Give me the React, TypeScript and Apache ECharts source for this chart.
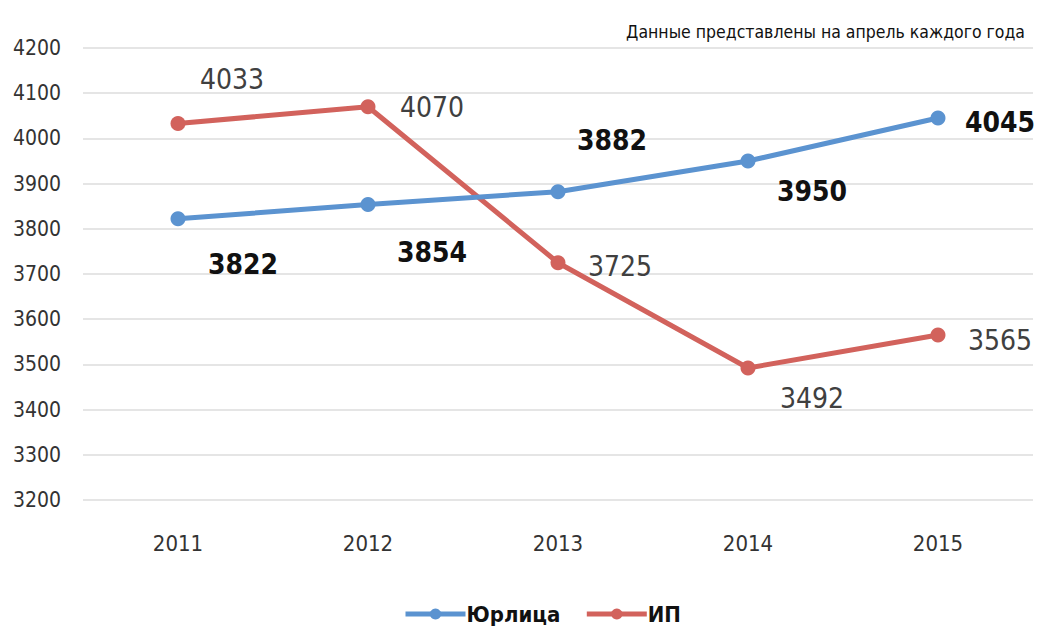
import React, { useEffect, useRef } from "react";
import * as echarts from "echarts";

const years = ["2011", "2012", "2013", "2014", "2015"];
const corpName = "Юрлица";
const ipName = "ИП";
const corpValues = [3822, 3854, 3882, 3950, 4045];
const ipValues = [4033, 4070, 3725, 3492, 3565];
const noteText = "Данные представлены на апрель каждого года";

// label offsets (style only)
const corpLabelOffsets = [[65, 46], [64, 48], [54, -51], [64, 30], [62, 4]];
const ipLabelOffsets = [[54, -44], [64, 1], [62, 4], [64, 30], [62, 5]];

const FONT = "'Liberation Sans Narrow', 'DejaVu Sans Condensed', 'Roboto Condensed', 'Noto Sans', sans-serif";
const BLUE = "#5B93D0";
const RED = "#D2625C";

export default function App() {
  const ref = useRef<HTMLDivElement>(null);
  useEffect(() => {
    if (!ref.current) return;
    const chart = echarts.init(ref.current, null, { renderer: "svg" });
    const mk = (vals: number[], offs: number[][], bold: boolean, color: string) =>
      vals.map((v, i) => ({
        value: v,
        label: {
          show: true,
          position: "inside",
          offset: offs[i],
          fontSize: 28,
          fontFamily: FONT,
          fontWeight: bold ? "bold" : "normal",
          color,
        },
      }));
    chart.setOption({
      animation: false,
      backgroundColor: "#ffffff",
      textStyle: { fontFamily: FONT },
      title: {
        text: noteText,
        right: 8,
        top: 18,
        textStyle: { fontFamily: FONT, fontSize: 17.5, fontWeight: "normal", color: "#111" },
      },
      legend: {
        data: [
          { name: corpName, lineStyle: { width: 5 } },
          { name: ipName, lineStyle: { width: 5 } },
        ],
        left: 398,
        top: 598,
        itemWidth: 60,
        itemHeight: 14,
        itemGap: 24,
        textStyle: { fontFamily: FONT, fontSize: 22, fontWeight: "bold", color: "#111", padding: [0, 0, 0, -4] },
      },
      grid: { left: 83, right: 5, top: 48, bottom: 130 },
      xAxis: {
        type: "category",
        data: years,
        boundaryGap: true,
        axisLine: { show: false },
        axisTick: { show: false },
        axisLabel: { fontFamily: FONT, fontSize: 22, color: "#333", margin: 32 },
      },
      yAxis: {
        type: "value",
        min: 3200,
        max: 4200,
        interval: 100,
        axisLine: { show: false },
        axisTick: { show: false },
        axisLabel: {
          fontFamily: FONT,
          fontSize: 21,
          color: "#333",
          margin: 22,
          formatter: (v: number) => String(v),
        },
        splitLine: { lineStyle: { color: "#E5E5E5", width: 2 } },
      },
      series: [
        {
          name: corpName,
          type: "line",
          data: mk(corpValues, corpLabelOffsets, true, "#111"),
          color: BLUE,
          lineStyle: { width: 5, color: BLUE },
          itemStyle: { color: BLUE },
          symbol: "circle",
          symbolSize: 15,
          z: 3,
        },
        {
          name: ipName,
          type: "line",
          data: mk(ipValues, ipLabelOffsets, false, "#404040"),
          color: RED,
          lineStyle: { width: 5, color: RED },
          itemStyle: { color: RED },
          symbol: "circle",
          symbolSize: 15,
          z: 2,
        },
      ],
    });
    return () => chart.dispose();
  }, []);
  return (
    <div
      ref={ref}
      style={{ position: "fixed", left: 0, top: 0, width: 1038, height: 630, background: "#fff" }}
    />
  );
}
